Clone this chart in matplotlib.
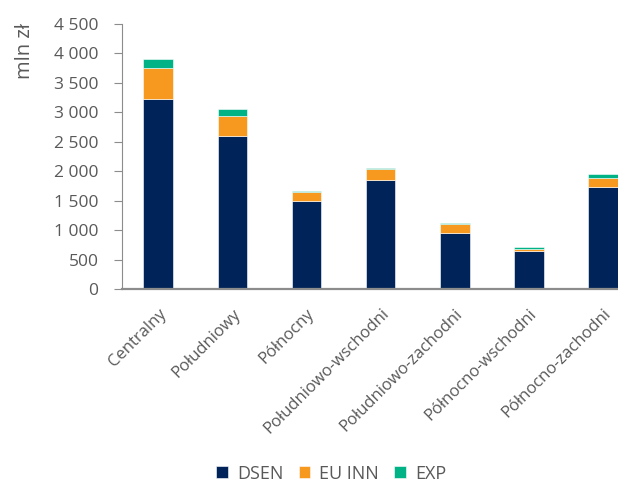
import matplotlib.pyplot as plt
import numpy as np

# regiony i wartości (mln zł)
regiony = ['Centralny', 'Południowy', 'Północny', 'Południowo-wschodni',
           'Południowo-zachodni', 'Północno-wschodni', 'Północno-zachodni']
dsen = [3230, 2600, 1487, 1850, 944, 645, 1732]
eu_inn = [523, 335, 153, 180, 153, 34, 153]
exp = [146, 118, 29, 29, 29, 34, 61]

serie = ['DSEN', 'EU INN', 'EXP']
kolory = ['#002459', '#F7991E', '#00B386']
yticks = np.arange(0, 4501, 500)

plt.rcParams['font.family'] = ['Open Sans', 'DejaVu Sans']
szary = '#595959'

fig = plt.figure(figsize=(6.18, 4.82), dpi=100)
ax = fig.add_axes([122 / 618, 193 / 482, 518.7 / 618, 265 / 482])

x = np.arange(len(regiony))
dol = np.zeros(len(regiony))
for nazwa, wartosci, kolor in zip(serie, [dsen, eu_inn, exp], kolory):
    ax.bar(x, wartosci, width=0.4, bottom=dol, color=kolor, label=nazwa,
           edgecolor='white', linewidth=0.4)
    dol += np.array(wartosci)

ax.set_xlim(-0.49, 6.51)
ax.set_ylim(0, 4500)
ax.set_yticks(yticks)
ax.set_yticklabels([f'{v:,}'.replace(',', ' ') for v in yticks])
ax.set_xticks(x)
ax.set_xticklabels(regiony, rotation=45, ha='right', va='top',
                   rotation_mode='anchor')

for s in ['top', 'right']:
    ax.spines[s].set_visible(False)
ax.spines['left'].set_color('#8C8C8C')
ax.spines['bottom'].set_color('#8C8C8C')
ax.spines['bottom'].set_linewidth(1.6)
ax.tick_params(axis='y', colors='#8C8C8C', labelcolor=szary, labelsize=12.5,
               length=6, pad=11)
ax.tick_params(axis='x', length=0, labelcolor=szary, labelsize=12, pad=12)

ax.set_ylabel('mln zł', color=szary, fontsize=14.5)
ax.yaxis.set_label_coords(-0.167, 0.898)

fig.legend(loc='lower center', bbox_to_anchor=(0.536, -0.035), ncol=3,
           frameon=False, fontsize=13, labelcolor=szary, handlelength=0.65,
           handleheight=0.65, handletextpad=0.5, columnspacing=0.85)

fig.savefig('out.png', dpi=100)
